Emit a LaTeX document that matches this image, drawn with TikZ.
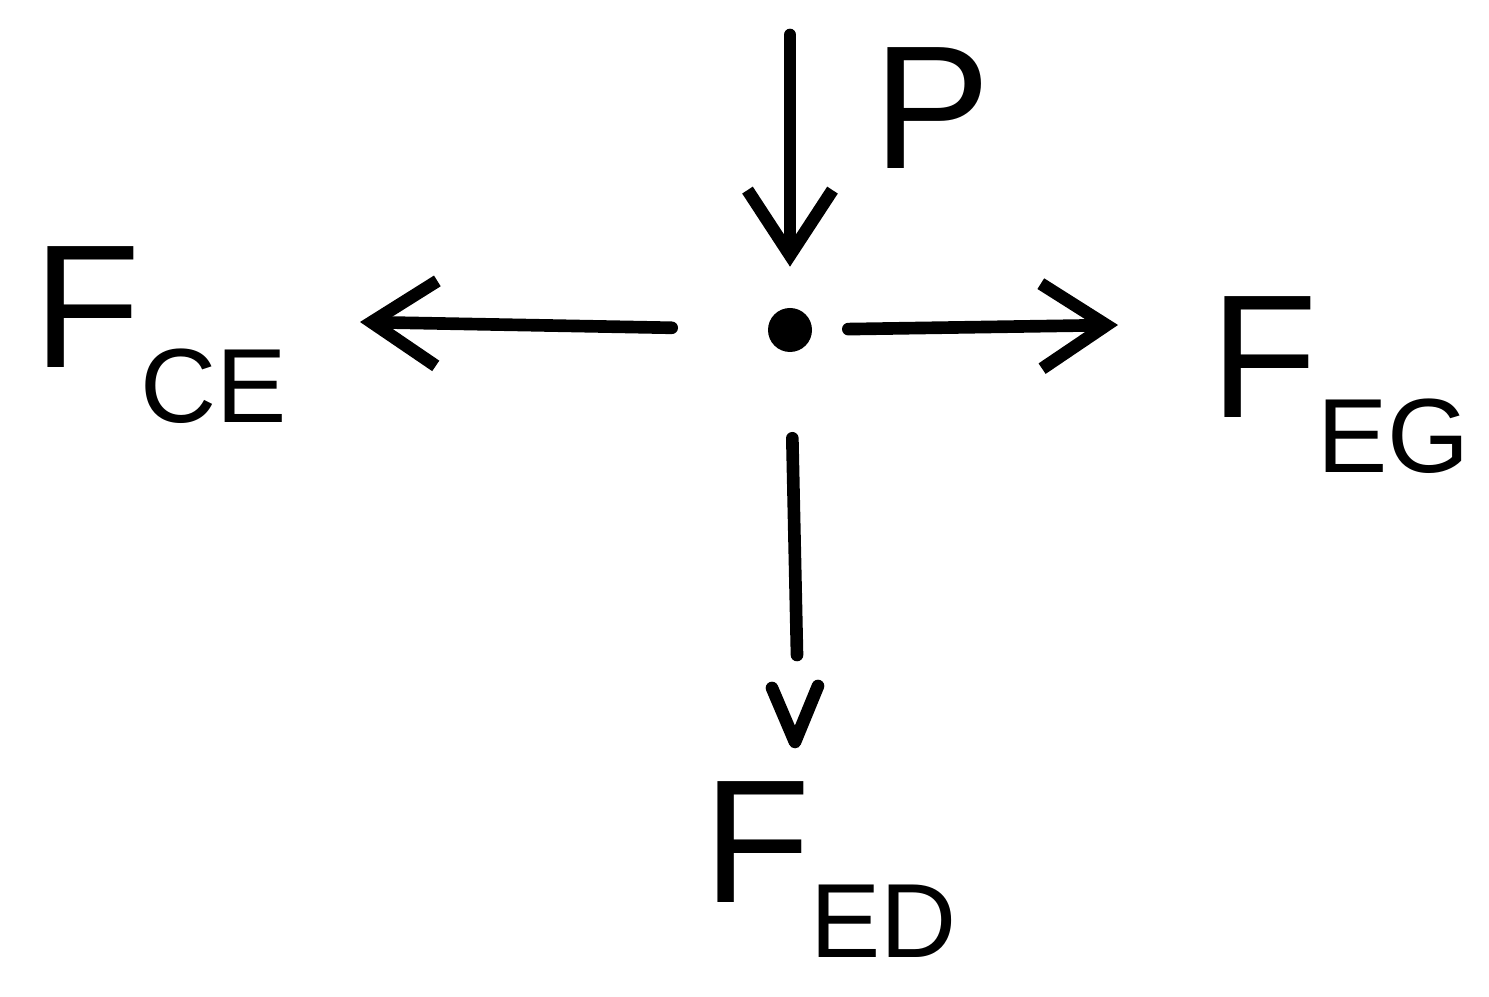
\documentclass[tikz,border=0pt]{standalone}
\usepackage{fontspec}
\setmainfont{Liberation Sans}
\usetikzlibrary{arrows.meta, positioning, calc}
\newcommand{\forcelabel}[1]{F\raisebox{-0.55cm}{\fontsize{30}{30}\selectfont #1}}

\begin{document}
\begin{tikzpicture}[line width=3.6pt, line cap=round, line join=round,
        force/.style={-{Straight Barb[length=6.5mm, width=8.5mm]}},
        lbl/.style={font=\fontsize{50}{56}\selectfont, inner sep=0pt},
        joint/.style={circle, fill, inner sep=0pt, minimum size=4.4mm}]
    \useasboundingbox (0,0) rectangle (14.89,-9.97);
    \node[joint] (e) at (7.9,-3.3) {};
    \coordinate (ptop) at (7.9,-0.35);
    \coordinate (ce)   at (3.6,-3.22);
    \coordinate (eg)   at (11.18,-3.25);
    \coordinate (ed)   at (7.97,-6.55);
    \coordinate (edl)  at (7.72,-6.88);
    \coordinate (edtip) at (7.95,-7.42);
    \coordinate (edr)  at (8.18,-6.86);
    \draw[force, shorten >=0.35cm] (ptop) -- (e);
    \draw[force, shorten <=0.9cm] (e) -- (ce);
    \draw[force, shorten <=0.3cm] (e) -- (eg);
    \draw[shorten <=0.8cm] (e) -- (ed);
    \draw (edl) -- (edtip) -- (edr);
    \node[lbl] (p)   at (9.32,-1.08) {P};
    \node[lbl] (fce) at (1.6,-3.35) {\forcelabel{CE}};
    \node[lbl] (feg) at (13.4,-3.85) {\forcelabel{EG}};
    \node[lbl] (fed) at (8.3,-8.7) {\forcelabel{ED}};
\end{tikzpicture}
\end{document}
